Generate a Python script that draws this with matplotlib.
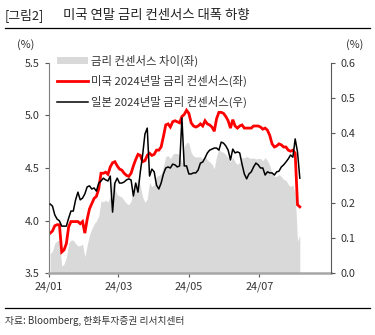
import numpy as np
import pandas as pd
import matplotlib
matplotlib.use("Agg")
from matplotlib import pyplot as plt
import matplotlib.dates as mdates
from matplotlib.patches import Patch
from matplotlib.lines import Line2D

plt.rcParams['font.family'] = ['Noto Sans CJK KR', 'DejaVu Sans']

# readings every 2 days, 2024-01-02 .. 2024-08-05
dates = pd.date_range("2024-01-02", periods=109, freq="2D")

# US 2024 year-end rate consensus (%, left axis)
us_rate = [
    3.88, 3.90, 3.95, 3.96, 3.96, 3.70, 3.72, 3.78, 3.94, 3.99,
    3.99, 3.99, 3.99, 3.97, 3.99, 3.88, 4.01, 4.11, 4.16, 4.21,
    4.23, 4.30, 4.45, 4.45, 4.46, 4.44, 4.51, 4.55, 4.56, 4.52,
    4.49, 4.48, 4.45, 4.43, 4.42, 4.45, 4.52, 4.58, 4.63, 4.62,
    4.56, 4.57, 4.62, 4.64, 4.62, 4.63, 4.67, 4.67, 4.70, 4.80,
    4.91, 4.92, 4.89, 4.94, 4.95, 4.94, 4.93, 4.99, 5.01, 5.05,
    5.02, 4.93, 4.90, 4.89, 4.90, 4.92, 4.90, 4.95, 4.92, 4.91,
    4.89, 4.85, 4.97, 5.03, 5.03, 5.02, 4.99, 4.95, 4.88, 4.96,
    4.90, 4.88, 4.90, 4.91, 4.88, 4.88, 4.88, 4.88, 4.90, 4.90,
    4.90, 4.89, 4.87, 4.88, 4.86, 4.81, 4.73, 4.70, 4.71, 4.73,
    4.72, 4.70, 4.70, 4.67, 4.66, 4.67, 4.64, 4.15, 4.13,
]

# Japan 2024 year-end rate consensus (%, right axis)
jp_rate = [
    0.197, 0.191, 0.166, 0.154, 0.149, 0.134, 0.134, 0.134, 0.157, 0.177,
    0.177, 0.209, 0.231, 0.209, 0.214, 0.226, 0.246, 0.249, 0.240, 0.243,
    0.234, 0.257, 0.263, 0.271, 0.266, 0.263, 0.277, 0.174, 0.257, 0.271,
    0.257, 0.257, 0.260, 0.266, 0.269, 0.266, 0.220, 0.257, 0.231, 0.289,
    0.337, 0.397, 0.414, 0.277, 0.297, 0.289, 0.251, 0.240, 0.257, 0.283,
    0.300, 0.303, 0.300, 0.311, 0.309, 0.303, 0.306, 0.443, 0.306, 0.306,
    0.283, 0.283, 0.286, 0.286, 0.294, 0.314, 0.317, 0.329, 0.343, 0.351,
    0.354, 0.357, 0.357, 0.351, 0.374, 0.371, 0.363, 0.351, 0.323, 0.354,
    0.343, 0.346, 0.343, 0.311, 0.283, 0.269, 0.283, 0.289, 0.303, 0.314,
    0.309, 0.300, 0.300, 0.280, 0.289, 0.286, 0.286, 0.280, 0.289, 0.291,
    0.303, 0.309, 0.317, 0.326, 0.337, 0.331, 0.383, 0.346, 0.271,
]

labels = ["금리 컨센서스 차이(좌)", "미국 2024년말 금리 컨센서스(좌)", "일본 2024년말 금리 컨센서스(우)"]
xticks = ["2024-01-01", "2024-03-01", "2024-05-01", "2024-07-01"]

us = np.array(us_rate)
jp = np.array(jp_rate)
spread = us - jp  # 차이 = 미국 - 일본

fig = plt.figure(figsize=(3.75, 3.35), dpi=100)
ax = fig.add_axes([0.1307, 0.185, 0.752, 0.627])
ax2 = ax.twinx()

gray = "#d9d9d9"
ax.fill_between(dates, 3.5, spread, color=gray, lw=0)
ax.plot(dates, us, color="#ff0000", lw=2.0, solid_joinstyle="miter")
ax2.plot(dates, jp, color="black", lw=1.1)

ax.set_ylim(3.5, 5.5)
ax.set_yticks([3.5, 4.0, 4.5, 5.0, 5.5])
ax.set_yticklabels(["3.5", "4.0", "4.5", "5.0", "5.5"])
ax2.set_ylim(0.0, 0.6)
ax2.set_yticks([0.0, 0.1, 0.2, 0.3, 0.4, 0.5, 0.6])
ax2.set_yticklabels(["0.0", "0.1", "0.2", "0.3", "0.4", "0.5", "0.6"])
ax.set_xlim(pd.Timestamp("2024-01-01"), pd.Timestamp("2024-09-01"))
ax.set_xticks(pd.to_datetime(xticks))
ax.xaxis.set_major_formatter(mdates.DateFormatter("%y/%m"))

txt = "#333333"
for a in (ax, ax2):
    a.spines["top"].set_visible(False)
    a.tick_params(labelsize=7.8, colors="#595959", labelcolor=txt, length=3, width=0.8)
ax.spines["right"].set_visible(False)
ax2.spines["left"].set_visible(False)
ax2.spines["bottom"].set_visible(False)
ax.spines["left"].set_color("#7f7f7f")
ax2.spines["right"].set_color("#595959")
ax.spines["bottom"].set_color("#a6a6a6")
ax.spines["bottom"].set_linewidth(1.8)
ax.tick_params(axis="x", pad=3)

handles = [
    Patch(facecolor=gray, edgecolor="none"),
    Line2D([], [], color="#ff0000", lw=2.0),
    Line2D([], [], color="black", lw=1.1),
]
leg = ax.legend(handles, labels, loc="upper left", bbox_to_anchor=(0.03, 1.04),
                frameon=False, fontsize=8.2, handlelength=2.7, handleheight=0.6,
                handletextpad=0.25, labelspacing=0.75, borderpad=0, borderaxespad=0)
for t in leg.get_texts():
    t.set_color(txt)

fig.text(0.013, 0.955, "[그림2]", fontsize=9.2, color="#222222", va="center", ha="left")
fig.text(0.168, 0.955, "미국 연말 금리 컨센서스 대폭 하향", fontsize=9.6,
         color="#222222", va="center", ha="left")
fig.add_artist(Line2D([0.013, 0.987], [0.915, 0.915], color="black", lw=0.9))
fig.text(0.045, 0.866, "(%)", fontsize=7.8, color=txt, ha="left", va="center")
fig.text(0.968, 0.866, "(%)", fontsize=7.8, color=txt, ha="right", va="center")
fig.add_artist(Line2D([0.013, 0.987], [0.08, 0.08], color="black", lw=0.9))
fig.text(0.013, 0.042, "자료: Bloomberg, 한화투자증권 리서치센터", fontsize=7.0,
         color=txt, ha="left", va="center")

fig.savefig("out.png", dpi=100)
